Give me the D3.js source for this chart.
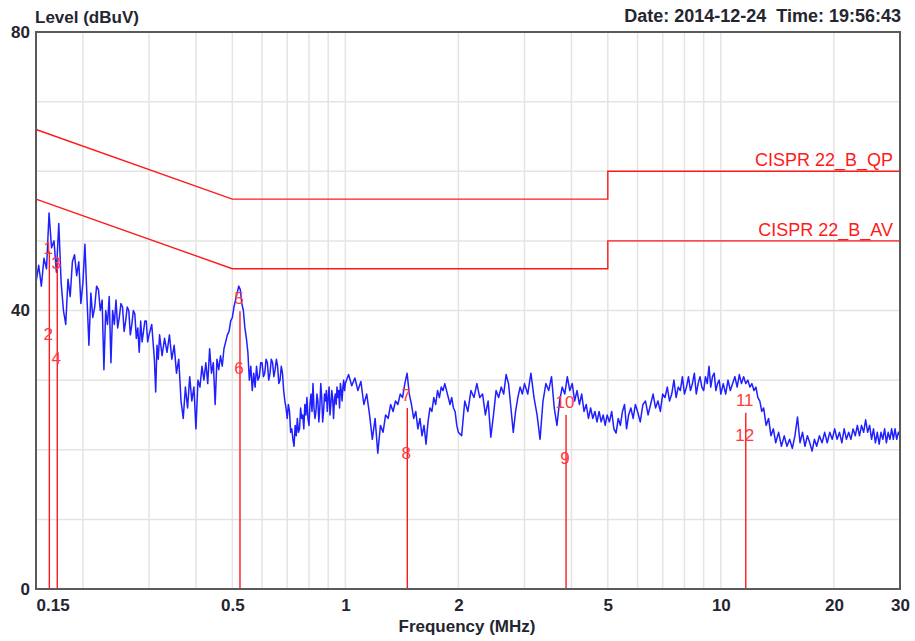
<!DOCTYPE html>
<html>
<head>
<meta charset="utf-8">
<script src="https://cdn.jsdelivr.net/npm/d3@7"></script>
<style>
  body { margin: 0; background: #fff; }
  svg text { font-family: "Liberation Sans", Arial, sans-serif; }
</style>
</head>
<body>
<div id="chart"></div>
<script>
// ---- data ----
var xTickLabels = [0.15, 0.5, 1, 2, 5, 10, 20, 30];
var yTickLabels = [0, 40, 80];
var xGrid = [0.2, 0.3, 0.4, 0.5, 0.6, 0.7, 0.8, 0.9, 1, 2, 3, 4, 5, 6, 7, 8, 9, 10, 20];
var yGrid = [10, 20, 30, 40, 50, 60, 70];

// limit lines (MHz, dBuV)
var limitFreq = [0.15, 0.5, 5, 5, 30];
var qpLevel = [66, 56, 56, 60, 60];
var avLevel = [56, 46, 46, 50, 50];
var limitNames = ["CISPR 22_B_QP", "CISPR 22_B_AV"];

// markers: [number, MHz, dBuV]
var markers = [
  [1, 0.1628, 48.5], [2, 0.1628, 34.8],
  [3, 0.1709, 46.8], [4, 0.1709, 31.3],
  [5, 0.524, 39.9],  [6, 0.524, 29.9],
  [7, 1.462, 26.0],  [8, 1.462, 17.6],
  [9, 3.87, 17.0],   [10, 3.87, 25.0],
  [11, 11.65, 25.3], [12, 11.65, 20.3]
];

// measured trace [MHz, dBuV]
var trace150k = [
  [0.1500,44],[0.1525,46.5],[0.1550,43.5],[0.1575,47.5],[0.1600,46],[0.1625,54],[0.1650,49],
  [0.1675,50],[0.1700,45.5],[0.1725,52.5],[0.1750,44],[0.1775,40],[0.1800,38],[0.1825,44.5],
  [0.1850,42],[0.1875,47],[0.1900,48],[0.1925,45],[0.1950,47],[0.1975,41],[0.2000,44],
  [0.2025,49.5],[0.205,42],[0.2075,35],[0.210,42.5],[0.2125,39],[0.215,40.5],[0.2175,43.5],
  [0.220,43],[0.2225,40],[0.225,41.5],[0.2275,31.5],[0.230,40],[0.2325,38],[0.235,42],
  [0.2375,32.5],[0.240,40],[0.2425,38],[0.245,41.5],[0.2475,37.5],[0.250,39],[0.2525,41],
  [0.255,40.5],[0.2575,37],[0.260,38.5],[0.2625,40.5],[0.265,40],[0.2675,36.5],[0.270,38],
  [0.2725,40],[0.275,39.5],[0.2775,36],[0.280,37.5],[0.2825,34],[0.285,38.5],[0.2875,35.5],
  [0.290,37],[0.2925,38.5],[0.295,38.5],[0.2975,35.5],[0.300,36.5]
];
var trace300k = [
  [0.305,38],[0.310,33],[0.3125,28.3],[0.315,35],[0.3175,33],[0.320,36.5],[0.325,33.5],
  [0.330,36],[0.335,34],[0.340,36.5],[0.345,33],[0.350,35],[0.355,31],[0.360,33],[0.365,27],
  [0.370,24.5],[0.375,29],[0.380,26],[0.385,30.5],[0.390,27],[0.395,29],[0.400,23],[0.405,30],
  [0.410,29],[0.415,32],[0.420,30],[0.425,32.5],[0.430,29.5],[0.435,34.5],[0.440,31],
  [0.445,32.5],[0.450,26.5],[0.455,33],[0.460,31.5],[0.465,33.5],[0.470,32],[0.475,34.5],
  [0.480,35.5],[0.485,36.5],[0.490,37],[0.495,38.5],[0.500,39]
];
var trace500k = [
  [0.505,40.5],[0.510,41.5],[0.515,42.5],[0.520,43.5],[0.525,43],[0.530,41],[0.535,40],
  [0.540,37.5],[0.545,36],[0.550,34],[0.555,30],[0.560,32],[0.565,28.5],[0.570,31],[0.575,29],
  [0.580,32],[0.585,30],[0.590,30.5],[0.595,32.5],[0.600,32.5],[0.605,30.5],[0.610,31],
  [0.615,33],[0.620,32.5],[0.625,30],[0.630,31],[0.635,33],[0.640,32.5],[0.645,30.5],
  [0.650,31.5],[0.655,33],[0.660,32],[0.665,29.5],[0.670,30],[0.675,32],[0.680,31],
  [0.685,28.5],[0.690,27],[0.695,26],[0.700,24.5],[0.705,26.5],[0.710,25.5],[0.715,22.5],
  [0.720,23],[0.725,21.5],[0.730,20.5],[0.735,23.5],[0.740,22],[0.745,24.5],[0.750,22.5],
  [0.755,23],[0.760,26],[0.765,24.5],[0.770,25],[0.775,23],[0.780,26.5],[0.785,25],
  [0.790,27.5],[0.795,24.5],[0.800,23.5],[0.805,26.5],[0.810,28],[0.815,25.5],[0.820,29.5],
  [0.825,26],[0.830,24.5],[0.835,25.5],[0.840,28],[0.845,27],[0.850,24],[0.855,26],
  [0.860,29.5],[0.865,27.5],[0.870,24],[0.875,25.5],[0.880,28],[0.885,27],[0.890,28.5],
  [0.895,25.5],[0.900,27.5],[0.905,29],[0.910,25],[0.915,26.5],[0.920,28.5],[0.925,27.5],
  [0.930,24.5],[0.935,27],[0.940,28],[0.945,26.5],[0.950,29],[0.955,27.5],[0.960,28.5],
  [0.965,26],[0.970,29.5],[0.975,28.5],[0.980,27],[0.985,29],[0.990,30],[0.995,28.5],
  [1.000,29.5]
];
var trace1M = [
  [1.02,30.8],[1.04,29.2],[1.06,30.3],[1.08,28.5],[1.10,29.8],[1.12,26.5],[1.14,28],[1.16,25],
  [1.18,21.5],[1.20,24.5],[1.22,19.5],[1.24,23.5],[1.26,22.5],[1.28,25],[1.30,24.5],[1.32,26.5],
  [1.34,25.5],[1.36,27],[1.38,26.5],[1.40,28],[1.42,27.5],[1.44,29.5],[1.46,31],[1.48,28],
  [1.50,26.5],[1.52,24.5],[1.54,25.5],[1.56,23],[1.58,24.5],[1.60,22],[1.62,23.5],[1.64,20.8],
  [1.66,24],[1.68,26],[1.70,25.5],[1.72,27.5],[1.74,26.5],[1.76,28.5],[1.78,27.5],[1.80,29],
  [1.82,28.5],[1.84,29.5],[1.86,28.5],[1.88,27.5],[1.90,26.5],[1.92,27.5],[1.94,26],
  [1.96,25.5],[1.98,23.5],[2.00,22.5]
];
var trace2M = [
  [2.04,22],[2.08,27],[2.12,25.5],[2.16,28.5],[2.20,27.5],[2.24,29.5],[2.28,27.5],[2.32,28],
  [2.36,25],[2.40,27],[2.44,21.8],[2.48,25],[2.52,28.5],[2.56,27.5],[2.60,29],[2.64,28],
  [2.68,30.8],[2.72,29.5],[2.76,26],[2.80,22.5],[2.84,25.5],[2.88,27.5],[2.92,29],[2.96,28],
  [3.00,29.5],[3.06,28],[3.12,31],[3.18,27.5],[3.24,25],[3.30,21.5],[3.36,27],[3.42,29.5],
  [3.48,28.5],[3.54,30.5],[3.60,26],[3.66,23.5],[3.72,27],[3.78,29],[3.84,28],[3.90,30.5],
  [3.96,28.5],[4.02,29.5],[4.08,27],[4.14,28.5],[4.20,26.5],[4.26,28],[4.32,25.5],[4.38,26.5],
  [4.44,24.5],[4.50,26],[4.56,24.5],[4.62,25.5],[4.68,24],[4.74,25.5],[4.80,24],[4.86,25],
  [4.92,23.5],[4.98,25]
];
var trace5M = [
  [5.05,24],[5.12,25.5],[5.19,23],[5.26,22.4],[5.33,24.5],[5.40,23.5],[5.47,25.5],[5.54,26.5],
  [5.61,23],[5.68,25],[5.76,26],[5.84,24.5],[5.92,26.5],[6.00,25.5],[6.10,24],[6.20,26.5],
  [6.30,27],[6.40,25],[6.50,26.5],[6.60,28],[6.70,26],[6.80,27],[6.90,25.5],[7.00,28],
  [7.10,27.5],[7.20,29],[7.30,27],[7.40,28],[7.50,30],[7.60,27.5],[7.70,29],[7.80,28.5],
  [7.90,30.5],[8.00,28],[8.10,29],[8.20,30.5],[8.30,28.5],[8.40,29.5],[8.50,31],[8.60,28],
  [8.70,29.5],[8.80,30.5],[8.90,29],[9.00,28.5],[9.10,30.5],[9.20,29.5],[9.30,32],[9.40,29],
  [9.50,30.5],[9.60,31],[9.70,28.5],[9.80,29.5],[9.90,30],[10.0,28]
];
var trace10M = [
  [10.15,29.5],[10.30,28],[10.45,30],[10.60,28.5],[10.75,29.5],[10.90,30.5],[11.05,29],
  [11.20,30.8],[11.35,29.5],[11.50,30.5],[11.65,29.5],[11.80,30],[11.95,29],[12.10,29.5],
  [12.25,28.5],[12.40,29],[12.55,27.5],[12.70,27],[12.85,25.5],[13.00,26],[13.20,23.5],
  [13.40,24.5],[13.60,22],[13.80,23],[14.00,21],[14.25,22.5],[14.50,20.5],[14.75,22],
  [15.00,20.5],[15.25,21.5],[15.50,20.2],[15.75,22],[16.00,24.7],[16.25,21],[16.50,22.5],
  [16.75,20.5],[17.00,22],[17.25,21],[17.50,19.8],[17.75,21.5],[18.0,20.5],[18.3,22],[18.6,21],
  [18.9,22.5],[19.2,21],[19.5,22.5],[19.8,21.5],[20.1,23],[20.4,21.5],[20.7,22.5],[21.0,21],
  [21.3,23],[21.6,21.5],[21.9,22.5],[22.2,21.5],[22.5,23],[22.8,22],[23.1,23.5],[23.4,22],
  [23.7,23.5],[24.0,22.5],[24.3,24.3],[24.6,22.5],[24.9,23.5],[25.2,21.5],[25.5,23],[25.8,21],
  [26.1,22.5],[26.4,20.8],[26.7,22.5],[27.0,21.5],[27.3,23],[27.6,21],[27.9,22.5],[28.2,21.5],
  [28.5,23],[28.8,21.5],[29.1,23],[29.4,21.5],[29.7,22.5],[30.0,22]
];
var trace = trace150k.concat(trace300k, trace500k, trace1M, trace2M, trace5M, trace10M);

// ---- layout ----
var margin = {top: 32, right: 15, bottom: 52, left: 36},
    width = 915 - margin.left - margin.right,
    height = 641 - margin.top - margin.bottom;

var svgRoot = d3.select("#chart").append("svg")
    .attr("width", 915)
    .attr("height", 641);
var svg = svgRoot.append("g")
    .attr("transform", "translate(" + margin.left + "," + margin.top + ")");

var x = d3.scaleLog().domain([0.15, 30]).range([0, width]);
var y = d3.scaleLinear().domain([0, 80]).range([height, 0]);

var textColor = "#252530";
var red = "#ff1a1a";

// grid
svg.append("g").selectAll("line").data(xGrid).enter().append("line")
    .attr("x1", function(d) { return x(d); }).attr("x2", function(d) { return x(d); })
    .attr("y1", 0).attr("y2", height)
    .attr("stroke", "#e4e4e4").attr("stroke-width", 1.5);
svg.append("g").selectAll("line").data(yGrid).enter().append("line")
    .attr("x1", 0).attr("x2", width)
    .attr("y1", function(d) { return y(d); }).attr("y2", function(d) { return y(d); })
    .attr("stroke", "#e4e4e4").attr("stroke-width", 1.5);

// trace
var line = d3.line()
    .x(function(d) { return x(d[0]); })
    .y(function(d) { return y(d[1]); });

svg.append("path")
    .datum(trace)
    .attr("fill", "none")
    .attr("stroke", "#1f1fff")
    .attr("stroke-width", 1.5)
    .attr("stroke-linejoin", "round")
    .attr("d", line);

// limit lines
[qpLevel, avLevel].forEach(function(levels, i) {
  var pts = limitFreq.map(function(f, j) { return [f, levels[j]]; });
  svg.append("path")
      .datum(pts)
      .attr("fill", "none")
      .attr("stroke", red)
      .attr("stroke-width", 1.4)
      .attr("d", line);
  svg.append("text")
      .attr("x", width - 7)
      .attr("y", y(levels[levels.length - 1]) - 5)
      .attr("text-anchor", "end")
      .attr("fill", red)
      .style("font-size", "18px")
      .text(limitNames[i]);
});

// markers: one line per frequency up to the higher reading
var markerTops = Array.from(d3.rollup(markers, function(v) { return d3.max(v, function(d) { return d[2]; }); },
    function(d) { return d[1]; }));
svg.append("g").selectAll("line")
    .data(markerTops)
    .enter().append("line")
    .attr("x1", function(d) { return x(d[0]); }).attr("x2", function(d) { return x(d[0]); })
    .attr("y1", height).attr("y2", function(d) { return y(d[1]); })
    .attr("stroke", red).attr("stroke-width", 1.4);

var labelShift = {1: 10, 3: 13};
svg.append("g").selectAll("text")
    .data(markers).enter().append("text")
    .attr("x", function(d) { return x(d[1]) - 1; })
    .attr("y", function(d) { return y(d[2]) - 13 + (labelShift[d[0]] || 0); })
    .attr("dy", "0.35em")
    .attr("text-anchor", "middle")
    .attr("fill", "#ff3a3a")
    .style("font-size", "17px")
    .text(function(d) { return d[0]; });

// frame
svg.append("rect")
    .attr("width", width).attr("height", height)
    .attr("fill", "none")
    .attr("stroke", "#5a5a5a").attr("stroke-width", 2);

// axes
var xAxis = svg.append("g")
    .attr("transform", "translate(0," + height + ")")
    .call(d3.axisBottom(x).tickValues(xTickLabels).tickSize(0).tickPadding(10)
      .tickFormat(function(d) { return String(d); }));
xAxis.select(".domain").remove();
xAxis.selectAll("text")
    .attr("fill", textColor)
    .style("font-size", "17px").style("font-weight", "bold")
    .attr("text-anchor", function(d, i) { return i === 0 ? "start" : "middle"; });

var yAxis = svg.append("g")
    .call(d3.axisLeft(y).tickValues(yTickLabels).tickSize(0).tickPadding(6));
yAxis.select(".domain").remove();
yAxis.selectAll("text")
    .attr("fill", textColor)
    .style("font-size", "17px").style("font-weight", "bold");

// titles
svgRoot.append("text")
    .attr("x", 35).attr("y", 23)
    .attr("fill", textColor)
    .style("font-size", "17px").style("font-weight", "bold")
    .text("Level (dBuV)");

svgRoot.append("text")
    .attr("x", margin.left + width / 2 - 1).attr("y", 632)
    .attr("text-anchor", "middle")
    .attr("fill", textColor)
    .style("font-size", "17px").style("font-weight", "bold")
    .text("Frequency (MHz)");

svgRoot.append("text")
    .attr("x", 901).attr("y", 22)
    .attr("text-anchor", "end")
    .attr("fill", textColor)
    .attr("xml:space", "preserve")
    .style("white-space", "pre")
    .style("font-size", "18px").style("font-weight", "bold")
    .text("Date: 2014-12-24  Time: 19:56:43");
</script>
</body>
</html>
